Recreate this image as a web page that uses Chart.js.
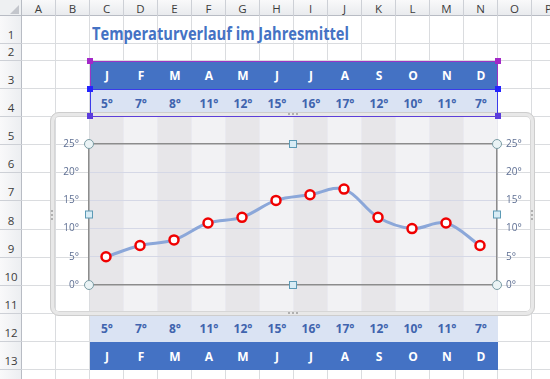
<!DOCTYPE html>
<html>
<head>
<meta charset="utf-8">
<script src="https://cdn.jsdelivr.net/npm/chart.js@4.4.0/dist/chart.umd.min.js"></script>
<style>
  html, body { margin: 0; padding: 0; background: #fff; }
  #sheet { position: relative; width: 550px; height: 379px; overflow: hidden; font-family: "Open Sans", sans-serif; }
  .abs { position: absolute; box-sizing: border-box; }
  .cell { display: flex; align-items: center; justify-content: center; font-weight: bold; font-size: 12px; }
  #chart { position: absolute; left: 0; top: 0; z-index: 20; }
</style>
</head>
<body>
<div id="sheet"><canvas id="chart" width="550" height="379"></canvas></div>
<script>
// data
const months = ['J', 'F', 'M', 'A', 'M', 'J', 'J', 'A', 'S', 'O', 'N', 'D'];
const temps = [5, 7, 8, 11, 12, 15, 16, 17, 12, 10, 11, 7];
const yTicks = [0, 5, 10, 15, 20, 25];
const colLetters = ['A', 'B', 'C', 'D', 'E', 'F', 'G', 'H', 'I', 'J', 'K', 'L', 'M', 'N', 'O', 'P'];
const rowNumbers = [1, 2, 3, 4, 5, 6, 7, 8, 9, 10, 11, 12, 13, 14];
const titleText = 'Temperaturverlauf im Jahresmittel';

// sheet geometry
const colX0 = 22, colW = 34, headH = 16;
const rowEdges = [16, 44, 61, 89, 117, 145, 173, 201, 230, 258, 286, 314, 342, 370, 398];
const sheet = document.getElementById('sheet');

function box(x, y, w, h, css, text, cls) {
  const d = document.createElement('div');
  d.className = 'abs' + (cls ? ' ' + cls : '');
  d.style.left = x + 'px'; d.style.top = y + 'px';
  d.style.width = w + 'px'; d.style.height = h + 'px';
  Object.assign(d.style, css || {});
  if (text !== undefined) d.textContent = text;
  sheet.appendChild(d);
  return d;
}
const colLeft = i => colX0 + i * colW;
const rowTop = r => rowEdges[r - 1];
const rowH = r => rowEdges[r] - rowEdges[r - 1];

// gridlines
colLetters.forEach((c, i) => box(colLeft(i + 1) - 1, headH, 1, 379, { background: '#dadcdf' }));
rowEdges.forEach(y => box(colX0, y - 1, 550, 1, { background: '#dadcdf' }));

// striped fills C5:N11
for (let i = 2; i <= 13; i++) {
  box(colLeft(i), rowTop(5), colW, rowEdges[11] - rowTop(5), { background: (i % 2 === 0) ? '#e7e6e9' : '#f2f2f4', borderRight: '1px solid #eaeaf0' });
}

// table rows built from the data
function tableRow(r, labels, bg, fg) {
  box(colLeft(2), rowTop(r), colW * 12, rowH(r), { background: bg });
  labels.forEach((t, i) => box(colLeft(2 + i), rowTop(r), colW, rowH(r), { color: fg }, t, 'cell'));
}
tableRow(3, months, '#4472c4', '#ffffff');
tableRow(4, temps.map(v => v + '°'), '#dae3f3', '#4064ae');
tableRow(12, temps.map(v => v + '°'), '#dae3f3', '#4064ae');
tableRow(13, months, '#4472c4', '#ffffff');

// title
const t = box(92, 22, 300, 24, { color: '#4472c4', fontWeight: 'bold', fontSize: '17px', whiteSpace: 'nowrap', transformOrigin: '0 50%', lineHeight: '24px' }, titleText);
t.style.width = 'auto';
const tw = t.getBoundingClientRect().width;
t.style.transform = 'scaleX(' + (257 / tw) + ')';

// column header bar
box(0, 0, 550, headH, { background: 'linear-gradient(#f9f9fa, #e9ebee)', borderBottom: '1px solid #b8bcc4' });
colLetters.forEach((c, i) => {
  box(colLeft(i), 0, colW, headH, { color: '#3c3c3c', fontSize: '11.5px', borderRight: '1px solid #cdd0d6', display: 'flex', alignItems: 'center', justifyContent: 'center' }, c);
});
// row header
box(0, headH, colX0, 379, { background: 'linear-gradient(90deg, #f9f9fa, #eceef1)', borderRight: '1px solid #b8bcc4' });
rowNumbers.forEach(n => {
  box(0, rowTop(n), colX0, rowH(n), { color: '#3c3c3c', fontSize: '11.5px', borderBottom: '1px solid #cdd0d6', display: 'flex', alignItems: 'flex-end', justifyContent: 'center', paddingBottom: '1px' }, String(n));
});
box(0, 0, colX0, headH, { background: '#eef0f2', borderRight: '1px solid #b8bcc4', borderBottom: '1px solid #b8bcc4' });
box(10, 5, 0, 0, { borderLeft: '9px solid transparent', borderBottom: '9px solid #c3c6cc' });

// chart object frame
box(50, 112, 485, 204, { border: '4px solid #e8e8e8', borderRadius: '9px', outline: '1px solid #cdcdcd', outlineOffset: '-1px', boxShadow: 'inset 0 0 0 1px #d6d6d6', zIndex: 5 });
[[288, 113, 10, 2], [288, 312, 10, 2], [51, 210, 2, 10], [531, 210, 2, 10]].forEach(g => {
  box(g[0], g[1], g[2], g[3], { borderTop: g[2] > g[3] ? '2px dotted #b0b0b0' : 'none', borderLeft: g[2] > g[3] ? 'none' : '2px dotted #b0b0b0', zIndex: 6 });
});

// range highlight borders
box(colLeft(2), rowTop(3), colW * 12, rowH(3) + 1, { border: '1px solid #9a34c4', borderBottom: 'none', zIndex: 8 });
box(colLeft(2), rowTop(4), colW * 12, rowH(4), { border: '1px solid #3b3bea', borderBottomColor: '#5d3fd8', zIndex: 8 });
[[colLeft(2), rowTop(3), '#a328c8'], [colLeft(14), rowTop(3), '#a328c8'],
 [colLeft(2), rowTop(4), '#2424ff'], [colLeft(14), rowTop(4), '#2424ff'],
 [colLeft(2), rowEdges[4] - 1, '#5b3cdc'], [colLeft(14), rowEdges[4] - 1, '#5b3cdc']].forEach(h => {
  box(h[0] - 3, h[1] - 3, 6, 6, { background: h[2], zIndex: 9 });
});

// selection handles of the plot area
const plotHandles = {
  id: 'plotHandles',
  afterDraw(chart) {
    const { left, right, top, bottom } = chart.chartArea;
    const c = chart.ctx;
    const mx = (left + right) / 2, my = (top + bottom) / 2;
    c.save();
    c.lineWidth = 1;
    [[left, top], [right, top], [left, bottom], [right, bottom]].forEach(([x, y]) => {
      c.beginPath(); c.arc(x, y, 4.5, 0, Math.PI * 2);
      c.fillStyle = '#eaf3f5'; c.fill();
      c.strokeStyle = '#7a9ca4'; c.stroke();
    });
    [[mx, top], [mx, bottom], [left, my], [right, my]].forEach(([x, y]) => {
      c.fillStyle = '#d8ecf5'; c.fillRect(x - 3.5, y - 3.5, 7, 7);
      c.strokeStyle = '#5c9ab5'; c.strokeRect(x - 3.5, y - 3.5, 7, 7);
    });
    c.restore();
  }
};

const tickFont = { family: '"Open Sans", sans-serif', size: 10 };
const tickColor = '#5e6f93';

new Chart(document.getElementById('chart').getContext('2d'), {
  type: 'line',
  data: {
    labels: months,
    datasets: [{
      data: temps,
      borderColor: '#8ba7d9',
      borderWidth: 3,
      tension: 0.35,
      fill: false,
      pointRadius: 4.5,
      pointBorderWidth: 2.5,
      pointBorderColor: '#f00000',
      pointBackgroundColor: '#ffffff'
    }]
  },
  options: {
    responsive: false,
    animation: false,
    layout: { padding: { left: 59, right: 23, top: 144, bottom: 94 } },
    plugins: { legend: { display: false }, tooltip: { enabled: false } },
    scales: {
      x: { display: false, offset: true },
      y: {
        position: 'left',
        min: yTicks[0], max: yTicks[yTicks.length - 1],
        afterBuildTicks: s => { s.ticks = yTicks.map(v => ({ value: v })); },
        afterFit: s => { s.width = 30; },
        ticks: { callback: v => v + '°', color: tickColor, font: tickFont, padding: 10 },
        grid: {
          drawTicks: false,
          color: c => (c.tick.value === yTicks[0] || c.tick.value === yTicks[yTicks.length - 1]) ? '#8c8c8c' : '#d5d8e6',
          lineWidth: c => (c.tick.value === yTicks[0] || c.tick.value === yTicks[yTicks.length - 1]) ? 1.5 : 1
        },
        border: { color: '#8c8c8c', width: 1.5 }
      },
      y2: {
        position: 'right',
        min: yTicks[0], max: yTicks[yTicks.length - 1],
        afterBuildTicks: s => { s.ticks = yTicks.map(v => ({ value: v })); },
        afterFit: s => { s.width = 30; },
        ticks: { callback: v => v + '°', color: tickColor, font: tickFont, padding: 9 },
        grid: { display: false, drawTicks: false },
        border: { color: '#8c8c8c', width: 1.5 }
      }
    }
  },
  plugins: [plotHandles]
});
</script>
</body>
</html>
